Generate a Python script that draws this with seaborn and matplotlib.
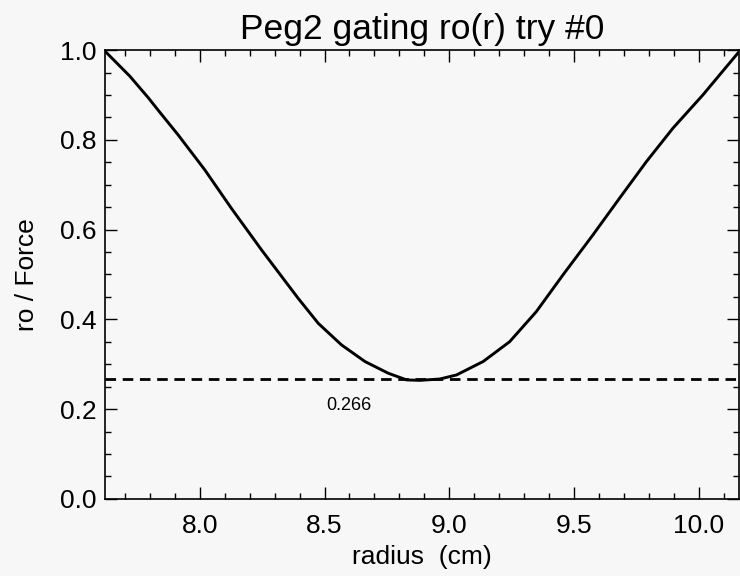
import matplotlib
matplotlib.use("Agg")
import matplotlib.pyplot as plt
from matplotlib.ticker import MultipleLocator, FormatStrFormatter
import pandas as pd
import seaborn as sns

# curve
radius = [7.619, 7.719, 7.793, 7.833, 7.913, 8.020, 8.127, 8.247, 8.394,
          8.475, 8.568, 8.662, 8.755, 8.829, 8.882, 8.962, 9.029, 9.136,
          9.242, 9.349, 9.456, 9.576, 9.683, 9.790, 9.897, 10.017, 10.083,
          10.160]
ro_force = [0.998, 0.942, 0.894, 0.866, 0.811, 0.733, 0.647, 0.555, 0.447,
            0.391, 0.343, 0.306, 0.280, 0.265, 0.264, 0.267, 0.276, 0.306,
            0.350, 0.417, 0.499, 0.588, 0.670, 0.751, 0.826, 0.900, 0.944,
            0.995]
min_level = 0.266
min_label = "0.266"

title = "Peg2 gating ro(r) try #0"
xlabel = "radius  (cm)"
ylabel = "ro / Force"

sns.set_theme(style="ticks")
plt.rcParams["font.family"] = ["Liberation Sans", "DejaVu Sans"]
plt.rcParams["text.color"] = "black"
plt.rcParams["axes.labelcolor"] = "black"
plt.rcParams["xtick.color"] = "black"
plt.rcParams["ytick.color"] = "black"

bg = "#f7f7f7"
fig = plt.figure(figsize=(7.4, 5.76), dpi=100, facecolor=bg)
ax = fig.add_axes([0.142, 0.134, 0.856, 0.779], facecolor=bg)

df = pd.DataFrame({"radius": radius, "ro": ro_force})
sns.lineplot(data=df, x="radius", y="ro", ax=ax, color="black", lw=2.1,
             sort=False)
ax.axhline(min_level, color="black", lw=2.0, ls=(0, (3.8, 2.4)))
ax.text(8.505, min_level - 0.057, min_label, fontsize=13, ha="left",
        va="center")

ax.set_xlim(7.62, 10.16)
ax.set_ylim(0.0, 1.0)
ax.xaxis.set_major_locator(MultipleLocator(0.5))
ax.xaxis.set_minor_locator(MultipleLocator(0.1))
ax.yaxis.set_major_locator(MultipleLocator(0.2))
ax.yaxis.set_minor_locator(MultipleLocator(0.05))
ax.xaxis.set_major_formatter(FormatStrFormatter("%.1f"))
ax.yaxis.set_major_formatter(FormatStrFormatter("%.1f"))

ax.tick_params(which="both", direction="in", top=True, right=True,
               color="black", width=1.0)
ax.tick_params(which="major", length=8.5, labelsize=19)
ax.tick_params(axis="x", which="major", pad=11)
ax.tick_params(axis="y", which="major", pad=6)
ax.tick_params(which="minor", length=4)
for s in ax.spines.values():
    s.set_color("black")
    s.set_linewidth(1.2)
    s.set_visible(True)

ax.set_title(title, fontsize=25.5, pad=8)
ax.set_xlabel(xlabel, fontsize=19, labelpad=5)
ax.set_ylabel(ylabel, fontsize=19, labelpad=15)

fig.savefig("out.png", dpi=100, facecolor=bg)
